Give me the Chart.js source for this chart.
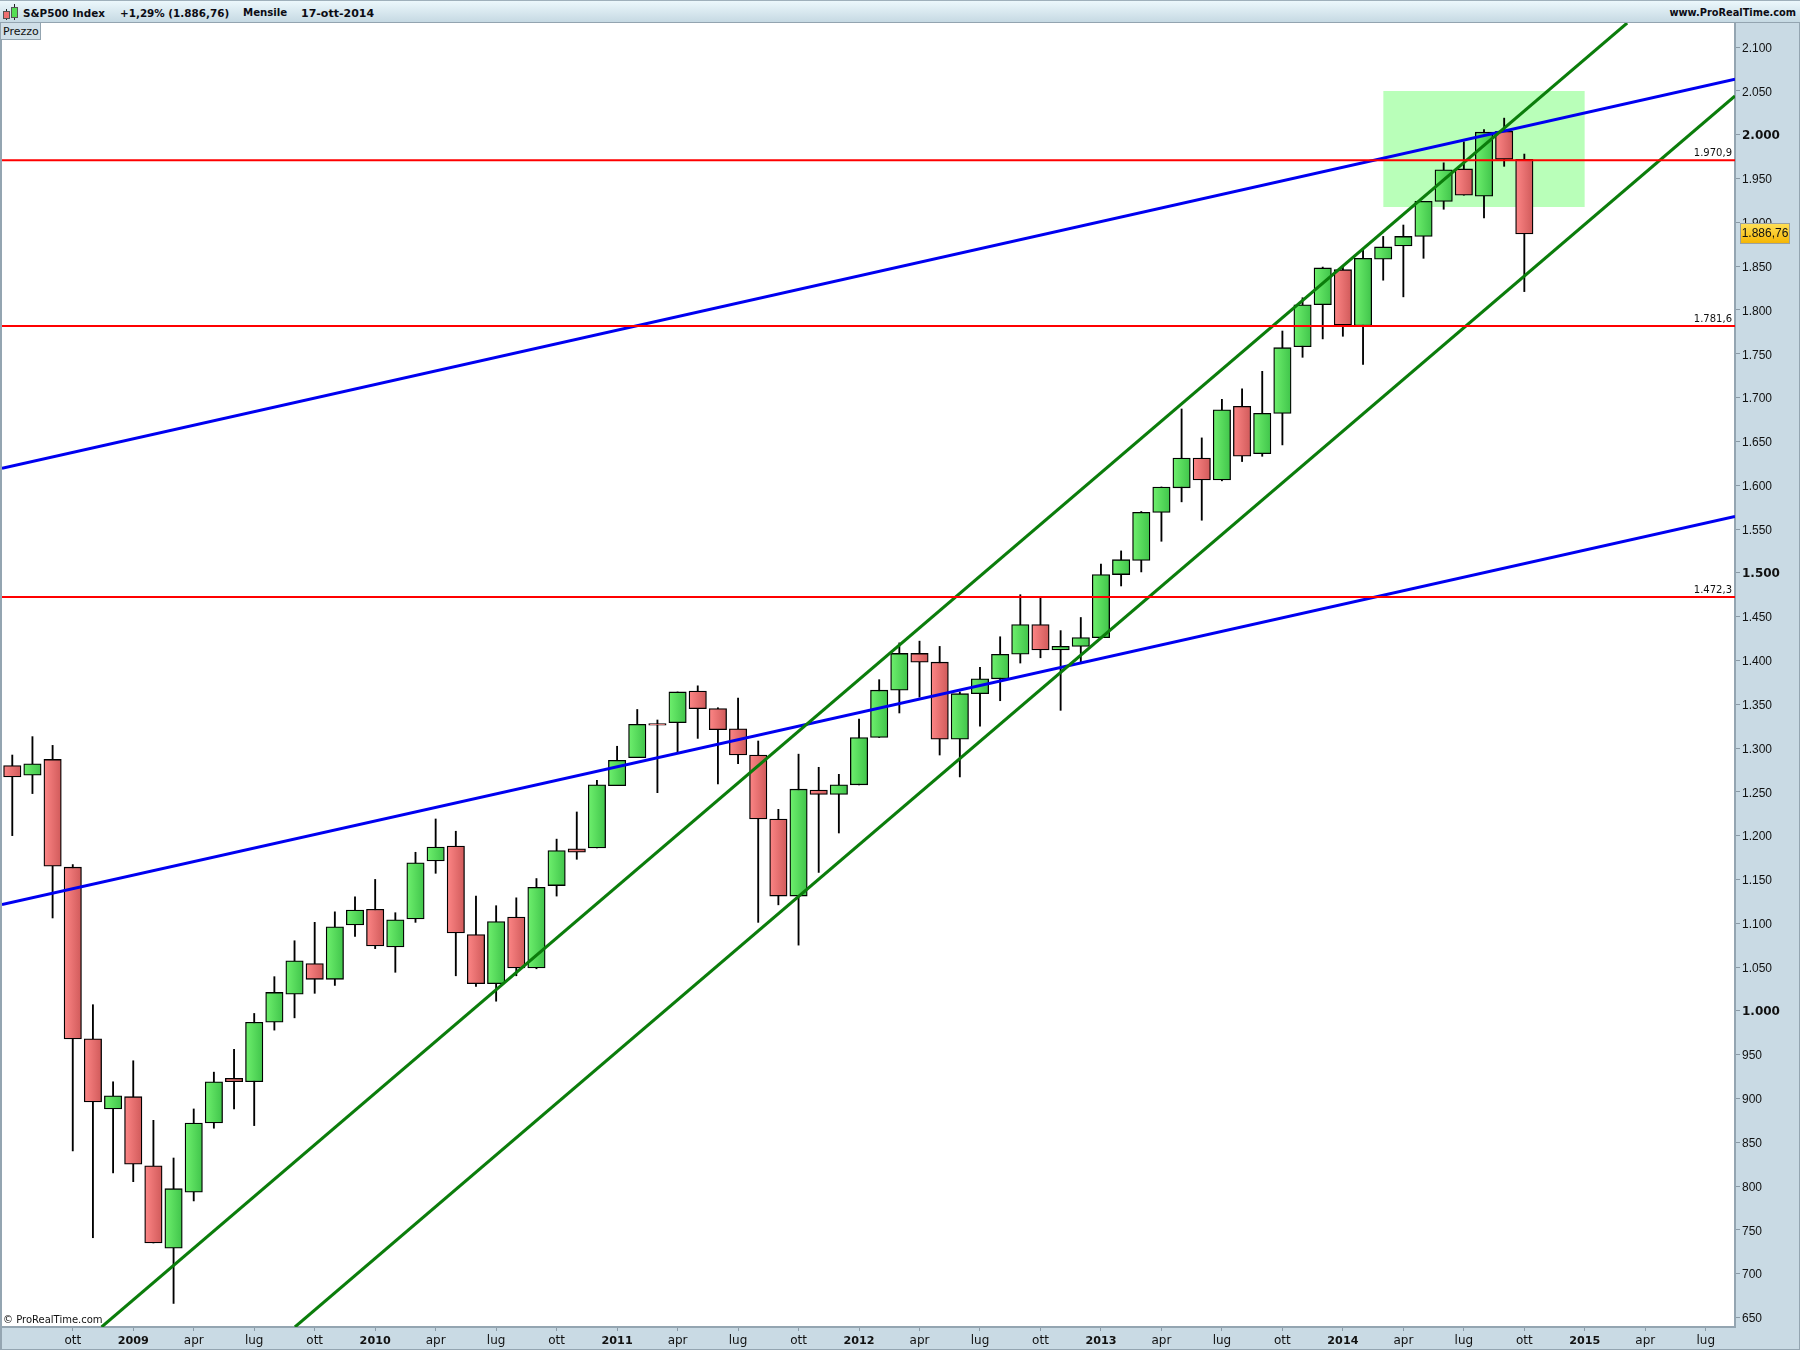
<!DOCTYPE html>
<html lang="it">

<head>
    <meta charset="UTF-8">
    <title>S&amp;P500 Index</title>
    <style>
        body {
            margin: 0;
            background: white;
            font-family: "DejaVu Sans";
        }

        #wrap {
            position: relative;
            width: 1800px;
            height: 1350px;
            overflow: hidden;
        }

        #topbar {
            position: absolute;
            left: 0;
            top: 0;
            width: 1800px;
            height: 21px;
            background: linear-gradient(#ecf8fc, #c6d9e3);
            border-top: 1px solid #9fb0bb;
            border-bottom: 1px solid #93a4b0;
        }

        .head {
            position: absolute;
            top: 6px;
            font-size: 10.4px;
            font-weight: bold;
            color: #0c0c14;
            white-space: nowrap;
        }

        .icon {
            position: absolute;
            border: 1px solid #555;
        }

        .wick {
            position: absolute;
            width: 1px;
            background: #222;
        }

        #prezzo {
            position: absolute;
            left: 1px;
            top: 23px;
            width: 39px;
            height: 16px;
            background: #d0dfe8;
            border-right: 1px solid #93a4b0;
            border-bottom: 1px solid #93a4b0;
            font-size: 11px;
            line-height: 18px;
            text-indent: 2px;
            color: #111;
        }

        #copy {
            position: absolute;
            left: 3px;
            top: 1314px;
            font-size: 10px;
            color: #111;
        }

        canvas {
            position: absolute;
            left: 0;
            top: 0;
        }
    </style>
</head>

<body>
    <div id="wrap">
        <canvas id="chart" width="1800" height="1350"></canvas>
        <div id="topbar">
            <div class="wick" style="left:6px;top:8px;height:11px"></div>
            <div class="wick" style="left:14px;top:3px;height:16px"></div>
            <div class="icon" style="left:3px;top:10px;width:5px;height:6px;background:#ee7070"></div>
            <div class="icon" style="left:11px;top:6px;width:5px;height:9px;background:#55dd55"></div>
            <div class="head" style="left:23px">S&amp;P500 Index</div>
            <div class="head" style="left:120px">+1,29% (1.886,76)</div>
            <div class="head" style="left:243px;font-size:10.2px">Mensile</div>
            <div class="head" style="left:301px;font-size:11px">17-ott-2014</div>
            <div class="head" style="right:4px;font-size:9.8px">www.ProRealTime.com</div>
        </div>
        <div id="prezzo">Prezzo</div>
        <div id="copy">© ProRealTime.com</div>
    </div>
</body>

</html>
<script src="https://cdn.jsdelivr.net/npm/chart.js@4"></script>
<script type="text/javascript">
    // monthly candles, first one is lug 2008, last one ott 2014
    var opens = [1280, 1269, 1287, 1164, 968, 888, 902, 823, 729, 793, 872, 923,
        919, 987, 1019, 1054, 1036, 1098, 1116, 1073, 1105, 1171, 1188, 1087,
        1031, 1107, 1049, 1143, 1185, 1186, 1257, 1289, 1328, 1329, 1365, 1345,
        1322, 1292, 1219, 1131, 1252, 1247, 1258, 1312, 1366, 1408, 1398, 1310,
        1362, 1379, 1407, 1441, 1412, 1416, 1426, 1498, 1514, 1569, 1597, 1631,
        1606, 1690, 1636, 1682, 1758, 1806, 1846, 1782, 1858, 1873, 1884, 1924,
        1961, 1930, 2004, 1972];
    var highs = [1292, 1313, 1303, 1167, 1007, 919, 943, 875, 832, 888, 930, 956,
        997, 1039, 1080, 1101, 1113, 1130, 1150, 1112, 1181, 1219, 1205, 1131,
        1120, 1129, 1151, 1196, 1227, 1263, 1302, 1344, 1332, 1364, 1371, 1346,
        1357, 1308, 1230, 1293, 1278, 1270, 1333, 1378, 1420, 1422, 1416, 1364,
        1392, 1427, 1475, 1471, 1434, 1449, 1510, 1525, 1570, 1598, 1687, 1654,
        1698, 1710, 1730, 1776, 1814, 1849, 1850, 1868, 1884, 1897, 1924, 1968,
        1992, 2006, 2019, 1978];
    var lows = [1200, 1248, 1106, 840, 741, 815, 805, 735, 666, 783, 866, 888,
        869, 978, 992, 1020, 1029, 1085, 1071, 1044, 1101, 1157, 1040, 1028,
        1011, 1040, 1048, 1131, 1173, 1186, 1257, 1289, 1249, 1295, 1311, 1259,
        1282, 1101, 1121, 1075, 1158, 1203, 1258, 1312, 1340, 1358, 1292, 1267,
        1325, 1354, 1397, 1403, 1343, 1398, 1426, 1485, 1501, 1536, 1581, 1560,
        1605, 1627, 1633, 1646, 1746, 1767, 1770, 1738, 1834, 1815, 1859, 1915,
        1931, 1905, 1964, 1821];
    var closes = [1267, 1282, 1165, 968, 896, 903, 825, 735, 797, 872, 919, 919,
        987, 1021, 1057, 1036, 1096, 1115, 1074, 1104, 1169, 1187, 1089, 1031,
        1102, 1049, 1141, 1183, 1181, 1258, 1286, 1327, 1326, 1364, 1345, 1321,
        1292, 1219, 1131, 1253, 1247, 1258, 1312, 1366, 1408, 1398, 1310, 1362,
        1379, 1407, 1441, 1412, 1416, 1426, 1498, 1515, 1569, 1598, 1631, 1606,
        1686, 1633, 1682, 1757, 1806, 1848, 1783, 1859, 1872, 1884, 1924, 1960,
        1931, 2003, 1972, 1886.76];

    // x axis, month position counted from lug 2008
    var xTicks = [3, 6, 9, 12, 15, 18, 21, 24, 27, 30, 33, 36, 39, 42, 45, 48, 51, 54, 57, 60, 63, 66, 69, 72, 75, 78, 81, 84];
    var xLabels = ['ott', '2009', 'apr', 'lug', 'ott', '2010', 'apr', 'lug', 'ott', '2011', 'apr', 'lug', 'ott', '2012', 'apr', 'lug', 'ott', '2013', 'apr', 'lug', 'ott', '2014', 'apr', 'lug', 'ott', '2015', 'apr', 'lug'];
    var yTicks = [650, 700, 750, 800, 850, 900, 950, 1000, 1050, 1100, 1150, 1200, 1250, 1300, 1350, 1400, 1450, 1500, 1550, 1600, 1650, 1700, 1750, 1800, 1850, 1900, 1950, 2000, 2050, 2100];
    var yBold = [1000, 1500, 2000];

    // support levels and trend lines
    var levels = [1970.9, 1781.6, 1472.3];
    var levelLabels = ['1.970,9', '1.781,6', '1.472,3'];
    var blueUpperX = [-0.51, 85.45];
    var blueUpperY = [1619.2, 2063.4];
    var blueLowerX = [-0.51, 85.45];
    var blueLowerY = [1121.2, 1564.2];
    var greenUpperX = [4.43, 80.1];
    var greenUpperY = [639.1, 2127.6];
    var greenLowerX = [14.02, 85.45];
    var greenLowerY = [639.1, 2044.3];
    var zoneX = [68, 78];
    var zoneTop = 2050;
    var zoneBottom = 1917.6;
    var lastPrice = 1886.76;
    var lastPriceLabel = '1.886,76';

    var xMin = -0.51, xMax = 85.45, yMin = 639.1, yMax = 2127.6;
    var BAND = '#c9dae4';
    var EDGE = '#94a5b1';

    function xy(xs, ys) {
        return xs.map(function(x, i) {
            return { x: x, y: ys[i] };
        });
    }

    // body colour goes from light on the left to dark on the right
    function bodyFill(c) {
        var scale = c.chart.scales.x;
        var up = closes[c.dataIndex] >= opens[c.dataIndex];
        var px = scale ? scale.getPixelForValue(c.dataIndex) : NaN;
        if (!isFinite(px)) return up ? '#55dd55' : '#ee7070';
        var g = c.chart.ctx.createLinearGradient(px - 8, 0, px + 8, 0);
        g.addColorStop(0, up ? '#6cee6c' : '#fb8484');
        g.addColorStop(1, up ? '#42c64c' : '#d25c5c');
        return g;
    }

    var frame = {
        id: 'frame',
        beforeDraw: function(chart) {
            var ctx = chart.ctx, a = chart.chartArea;
            ctx.save();
            ctx.fillStyle = 'white';
            ctx.fillRect(0, 0, 1800, 1350);
            ctx.fillStyle = BAND;
            ctx.fillRect(a.right, 0, 1800 - a.right, 1350);
            ctx.fillRect(0, a.bottom, 1800, 1350 - a.bottom);
            ctx.fillStyle = EDGE;
            ctx.fillRect(0, 0, 2, 1350);
            ctx.fillRect(0, 1349, 1800, 1);
            ctx.fillRect(1799, 0, 1, 1350);
            ctx.restore();
        },
        afterDraw: function(chart) {
            var ctx = chart.ctx, a = chart.chartArea, y = chart.scales.y;
            ctx.save();
            ctx.font = '10px "DejaVu Sans"';
            ctx.fillStyle = '#111';
            ctx.textAlign = 'right';
            ctx.textBaseline = 'alphabetic';
            levels.forEach(function(v, i) {
                ctx.fillText(levelLabels[i], a.right - 3, y.getPixelForValue(v) - 4);
            });

            // last price tag
            var py = y.getPixelForValue(lastPrice);
            var g = ctx.createLinearGradient(0, py - 10, 0, py + 10);
            g.addColorStop(0, '#ffdf55');
            g.addColorStop(1, '#f4b400');
            ctx.fillStyle = g;
            ctx.fillRect(1741, py - 10, 48, 19);
            ctx.strokeStyle = '#9aa0a0';
            ctx.lineWidth = 1;
            ctx.strokeRect(1740.5, py - 10.5, 49, 20);
            ctx.fillStyle = '#111';
            ctx.font = '12px "Liberation Sans"';
            ctx.textAlign = 'center';
            ctx.textBaseline = 'middle';
            ctx.fillText(lastPriceLabel, 1765, py);
            ctx.restore();
        }
    };

    var indexes = opens.map(function(v, i) { return i; });

    new Chart(document.getElementById('chart').getContext('2d'), {
        data: {
            datasets: [
                // lower order is painted on top
                { type: 'line', order: 0, data: xy([xMin, xMax], [levels[0], levels[0]]), borderColor: '#ff0000', borderWidth: 2, pointRadius: 0 },
                { type: 'line', order: 0, data: xy([xMin, xMax], [levels[1], levels[1]]), borderColor: '#ff0000', borderWidth: 2, pointRadius: 0 },
                { type: 'line', order: 0, data: xy([xMin, xMax], [levels[2], levels[2]]), borderColor: '#ff0000', borderWidth: 2, pointRadius: 0 },
                { type: 'line', order: 1, data: xy(greenUpperX, greenUpperY), borderColor: '#0b7d0b', borderWidth: 3, pointRadius: 0 },
                { type: 'line', order: 1, data: xy(greenLowerX, greenLowerY), borderColor: '#0b7d0b', borderWidth: 3, pointRadius: 0 },
                { type: 'line', order: 2, data: xy(blueUpperX, blueUpperY), borderColor: '#0000f0', borderWidth: 3, pointRadius: 0 },
                { type: 'line', order: 2, data: xy(blueLowerX, blueLowerY), borderColor: '#0000f0', borderWidth: 3, pointRadius: 0 },
                {
                    type: 'bar', order: 3, barThickness: 17.4, grouped: false, borderColor: '#000', borderWidth: 1.3, borderSkipped: false,
                    backgroundColor: bodyFill,
                    data: indexes.map(function(i) { return { x: i, y: [opens[i], closes[i]] }; })
                },
                {
                    type: 'bar', order: 4, barThickness: 1.2, grouped: false, backgroundColor: '#000', borderWidth: 0,
                    data: indexes.map(function(i) { return { x: i, y: [lows[i], highs[i]] }; })
                },
                {
                    type: 'line', order: 5, data: xy(zoneX, [zoneTop, zoneTop]), borderWidth: 0, pointRadius: 0,
                    backgroundColor: '#b9ffb9', fill: { value: zoneBottom }
                }
            ]
        },
        plugins: [frame],
        options: {
            responsive: false,
            animation: false,
            events: [],
            layout: { padding: { left: 2, top: 23 } },
            plugins: { legend: { display: false }, tooltip: { enabled: false } },
            scales: {
                x: {
                    type: 'linear',
                    offset: false,
                    min: xMin,
                    max: xMax,
                    afterFit: function(s) { s.height = 23; },
                    afterBuildTicks: function(s) {
                        s.ticks = xTicks.map(function(v) { return { value: v }; });
                    },
                    border: { color: EDGE, width: 2 },
                    grid: { offset: false, drawOnChartArea: false, color: '#8a9aa6', tickLength: 4 },
                    ticks: {
                        autoSkip: false,
                        maxRotation: 0,
                        padding: 3,
                        color: '#111',
                        callback: function(v) { return xLabels[xTicks.indexOf(v)]; },
                        font: function(c) {
                            var label = c.tick ? xLabels[xTicks.indexOf(c.tick.value)] : '';
                            return label && label.length == 4 ? { family: 'DejaVu Sans', size: 11.2, weight: 'bold' } : { family: 'DejaVu Sans', size: 12 };
                        }
                    }
                },
                y: {
                    type: 'linear',
                    position: 'right',
                    min: yMin,
                    max: yMax,
                    afterFit: function(s) { s.width = 65; },
                    afterBuildTicks: function(s) {
                        s.ticks = yTicks.map(function(v) { return { value: v }; });
                    },
                    border: { color: EDGE, width: 2 },
                    grid: { drawOnChartArea: false, color: '#8a9aa6', tickLength: 5 },
                    ticks: {
                        autoSkip: false,
                        padding: 2,
                        labelOffset: 1.5,
                        color: '#111',
                        callback: function(v) {
                            var s = String(v);
                            return s.length > 3 ? s.slice(0, -3) + '.' + s.slice(-3) : s;
                        },
                        font: function(c) {
                            return c.tick && yBold.indexOf(c.tick.value) >= 0 ? { family: 'DejaVu Sans', size: 12, weight: 'bold' } : { family: 'Liberation Sans', size: 12 };
                        }
                    }
                }
            }
        }
    });
</script>
